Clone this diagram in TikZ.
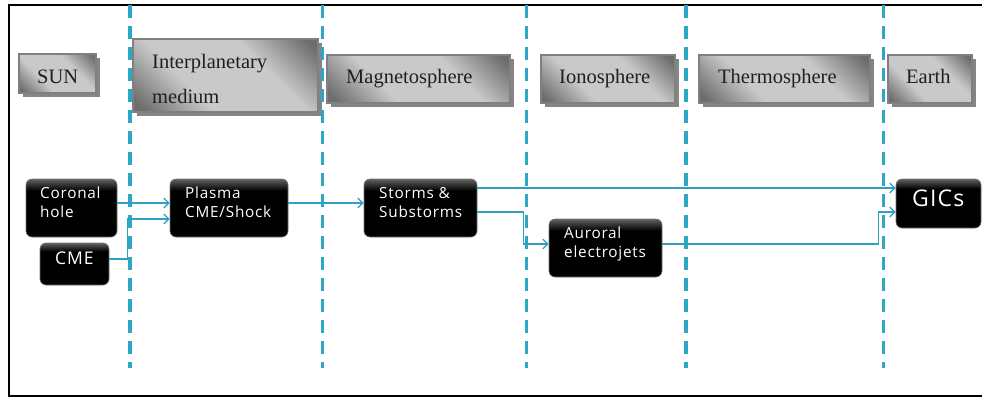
\documentclass[tikz,border=0pt]{standalone}
\usepackage{fontspec}
\setmainfont{Liberation Serif}
\newfontfamily\bsans{Open Sans}[LetterSpace=5]
\usetikzlibrary{shadows,arrows.meta}
\definecolor{lineblue}{HTML}{2EA6C6}
\definecolor{arrblue}{HTML}{2F9FC2}
\pgfdeclarehorizontalshading{grayband}{100bp}{color(0bp)=(black!60); color(18bp)=(black!57); color(37bp)=(black!21); color(63bp)=(black!21); color(82bp)=(black!57); color(100bp)=(black!60)}
\pgfdeclareverticalshading{blackgloss}{100bp}{color(0bp)=(black); color(65bp)=(black); color(75bp)=(black!62); color(100bp)=(black!62)}
\tikzset{
  graybox/.style={draw=black!50, line width=1.6pt, shading=grayband, shading angle=45,
    drop shadow={shadow xshift=3.5pt, shadow yshift=-3.5pt, fill=black!48, opacity=1},
    inner sep=0pt},
  blackbox/.style={draw=black!55, line width=0.6pt, rounded corners=6pt, shading=blackgloss, inner sep=0pt},
  graytext/.style={anchor=base west, inner sep=0pt, font=\fontsize{20.5}{35}\selectfont, align=left, text=black!88},
  whitetext/.style={anchor=base west, inner sep=0pt, font=\bsans\fontsize{15.3}{19}\selectfont, align=left, text=white},
  divider/.style={lineblue, line width=3.1pt, dash pattern=on 13pt off 8pt},
  arr/.style={arrblue, line width=1.3pt, -{Straight Barb[length=5pt,width=10pt,line width=1.3pt]}},
}
\begin{document}
\begin{tikzpicture}[x=1pt,y=-1pt]
\useasboundingbox (0,0) rectangle (982,399);
% frame
\draw[line width=2.6pt, line cap=rect] (982,5) -- (9,5) -- (9,396) -- (982,396);
% gray header boxes
\node[graybox, minimum width=77pt, minimum height=39pt] (sun) at (57.5,73.5) {};
\node[graybox, minimum width=185pt, minimum height=73pt] (ipm) at (225.5,75.5) {};
\node[graybox, minimum width=183pt, minimum height=48pt] (mag) at (418.5,79) {};
\node[graybox, minimum width=134pt, minimum height=48pt] (iono) at (608,79) {};
\node[graybox, minimum width=171pt, minimum height=48pt] (thermo) at (784.5,79) {};
\node[graybox, minimum width=84pt, minimum height=48pt] (earth) at (930,79) {};
\node[graytext] (tsun) at (37,83) {SUN};
\node[graytext] (tipm) at (152,103) {Interplanetary\\medium};
\node[graytext] (tmag) at (346,83) {Magnetosphere};
\node[graytext] (tiono) at (559,83) {Ionosphere};
\node[graytext] (tthermo) at (718,83) {Thermosphere};
\node[graytext] (tearth) at (906,83) {Earth};
% dividers
\foreach \x/\n in {130/d1,322.5/d2,526.5/d3,686/d4,883.5/d5}{
  \coordinate (\n top) at (\x,5);
  \coordinate (\n bot) at (\x,368);
  \draw[divider] (\n top) -- (\n bot);
}
% black boxes
\node[blackbox, minimum width=91pt, minimum height=58pt] (coronal) at (71.5,208) {};
\node[blackbox, minimum width=69pt, minimum height=42pt] (cme) at (74.5,264) {};
\node[blackbox, minimum width=118pt, minimum height=58pt] (plasma) at (229,208) {};
\node[blackbox, minimum width=113pt, minimum height=58pt] (storms) at (420.5,208) {};
\node[blackbox, minimum width=113pt, minimum height=58pt] (auroral) at (605.5,248) {};
\node[blackbox, minimum width=85pt, minimum height=49pt] (gics) at (938.5,203.5) {};
\node[whitetext] (tcoronal) at (40,217) {Coronal\\hole};
\node[whitetext, font=\bsans\fontsize{17.5}{20}\selectfont] (tcme) at (55,264) {CME};
\node[whitetext] (tplasma) at (185,217) {Plasma\\CME/Shock};
\node[whitetext] (tstorms) at (379,217) {Storms \&\\Substorms};
\node[whitetext] (tauroral) at (564,257) {Auroral\\electrojets};
\node[whitetext, font=\bsans\fontsize{23}{26}\selectfont] (tgics) at (912,206) {GICs};
% connectors
\draw[arr] ([yshift=5pt]coronal.east) -- ([yshift=5pt]plasma.west);
\draw[arr] ([yshift=5pt]cme.east) -- ++(18,0) |- ([yshift=-11pt]plasma.west);
\draw[arr] ([yshift=5pt]plasma.east) -- ([yshift=5pt]storms.west);
\draw[arr] ([yshift=20pt]storms.east) -- ([yshift=15.5pt]gics.west);
\draw[arr] ([yshift=-4pt]storms.east) -- ++(46,0) |- ([yshift=4pt]auroral.west);
\draw[arr] ([yshift=4pt]auroral.east) -- ++(216,0) |- ([yshift=-8.5pt]gics.west);
\end{tikzpicture}
\end{document}
